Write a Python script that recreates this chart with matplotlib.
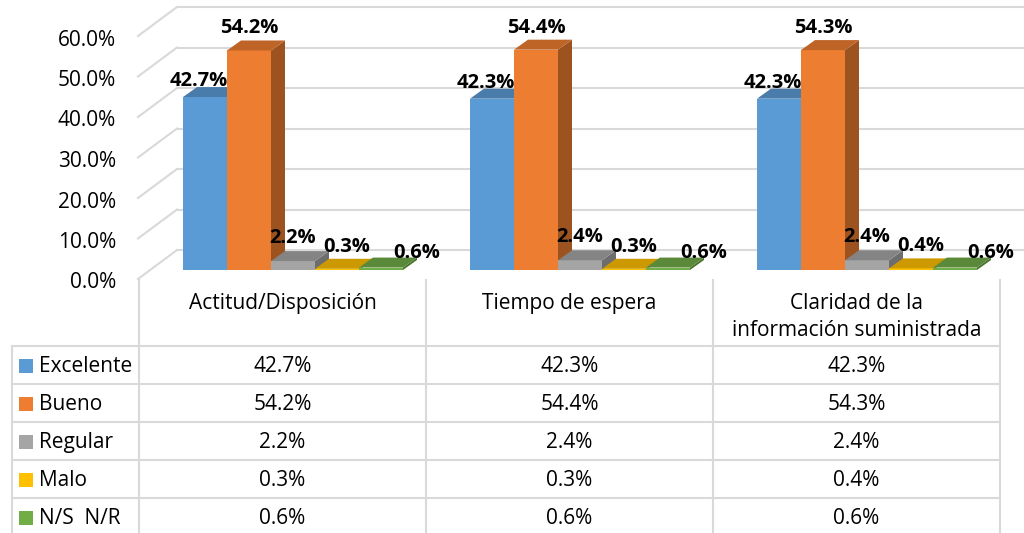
import numpy as np
import matplotlib.pyplot as plt
from matplotlib.patches import Polygon, Rectangle
from matplotlib.colors import to_rgb

# data
categories = ["Actitud/Disposición", "Tiempo de espera",
              "Claridad de la\ninformación suministrada"]
series = ["Excelente", "Bueno", "Regular", "Malo", "N/S  N/R"]
excelente = [42.7, 42.3, 42.3]
bueno = [54.2, 54.4, 54.3]
regular = [2.2, 2.4, 2.4]
malo = [0.3, 0.3, 0.4]
nsnr = [0.6, 0.6, 0.6]
values = [excelente, bueno, regular, malo, nsnr]
colors = ["#5B9BD5", "#ED7D31", "#A5A5A5", "#FFC000", "#70AD47"]
yticks = [0, 10, 20, 30, 40, 50, 60]

plt.rcParams['font.family'] = ['Open Sans', 'DejaVu Sans']

W, H = 1024, 533
CAT_PX = 287      # pixels per category
PCT_PX = 4.05     # pixels per percent
X0, Y0 = 139, 270 # pixel position of category 0 / 0% (bar front)
GRID = "#D9D9D9"


def dx(p):
    return p / CAT_PX


def dy(p):
    return p / PCT_PX


def shade(c, f):
    r, g, b = to_rgb(c)
    return (r * f, g * f, b * f)


fig = plt.figure(figsize=(W / 100, H / 100), dpi=100)
ax = fig.add_axes([0, 0, 1, 1])
ax.set_xlim(-X0 / CAT_PX, (W - X0) / CAT_PX)
ax.set_ylim(-(H - Y0) / PCT_PX, Y0 / PCT_PX)
ax.axis('off')

# walls: back gridlines + left wall diagonals
for v in yticks:
    ax.plot([dx(38), ax.get_xlim()[1]], [v + dy(20)] * 2, color=GRID, lw=1.5, zorder=1)
    ax.plot([dx(-1), dx(38)], [v - dy(9), v + dy(20)], color=GRID, lw=1.5, zorder=1)
    ax.text(dx(116 - X0), v - dy(13), f"{v:.1f}%", ha='right', va='center',
            fontsize=15, color='#000000')

# 3D-looking bars
bw = dx(44)
ddx, ddy = dx(14), dy(10)
lab_dx = [-6, 0, 0, 10, 36]
lab_dy = [1, 7, 8, 7, 0]
x = np.arange(len(categories))
for k, (vals, c) in enumerate(zip(values, colors)):
    lefts = x + dx(44) + k * bw
    ax.bar(lefts, vals, width=bw, align='edge', color=c, zorder=2 + k)
    for xl, v in zip(lefts, vals):
        xr = xl + bw
        side = Polygon([(xr, 0), (xr + ddx, ddy), (xr + ddx, v + ddy), (xr, v)],
                       closed=True, facecolor=shade(c, 0.66), edgecolor='none', zorder=2 + k)
        top = Polygon([(xl, v), (xl + ddx, v + ddy), (xr + ddx, v + ddy), (xr, v)],
                      closed=True, facecolor=shade(c, 0.8), edgecolor='none', zorder=2 + k)
        ax.add_patch(side)
        ax.add_patch(top)
        ax.text(xl + bw / 2 + dx(lab_dx[k]), v + ddy + dy(lab_dy[k]), f"{v:.1f}%",
                ha='center', va='baseline', fontsize=14.5, fontweight='bold',
                color='#000000', zorder=20)

# data table below the chart (pixel coordinates)
tax = fig.add_axes([0, 0, 1, 1], zorder=5)
tax.set_xlim(0, W)
tax.set_ylim(H, 0)
tax.axis('off')

col_edges = [139, 426, 713, 1000]
row_edges = [346, 384, 422, 460, 498, 536]
tax.plot([139, 139], [279, H], color=GRID, lw=1.5)
for xe in col_edges[1:]:
    tax.plot([xe, xe], [280, H], color=GRID, lw=1.5)
tax.plot([12, 12], [row_edges[0], H], color=GRID, lw=1.5)
for ye in row_edges[:-1]:
    tax.plot([12, 1000], [ye, ye], color=GRID, lw=1.5)

for j, cat in enumerate(categories):
    cx = (col_edges[j] + col_edges[j + 1]) / 2
    tax.text(cx, 293, cat, ha='center', va='top', fontsize=15,
             linespacing=1.4, color='#000000')

for i, (name, vals, c) in enumerate(zip(series, values, colors)):
    cy = (row_edges[i] + row_edges[i + 1]) / 2 + 1.5
    tax.add_patch(Rectangle((19, cy - 8), 14, 14, facecolor=c, edgecolor='none'))
    tax.text(39, cy, name, ha='left', va='center', fontsize=15, color='#000000')
    for j, v in enumerate(vals):
        cx = (col_edges[j] + col_edges[j + 1]) / 2
        tax.text(cx, cy, f"{v:.1f}%", ha='center', va='center', fontsize=15,
                 color='#000000')

fig.savefig("out.png", dpi=100)
